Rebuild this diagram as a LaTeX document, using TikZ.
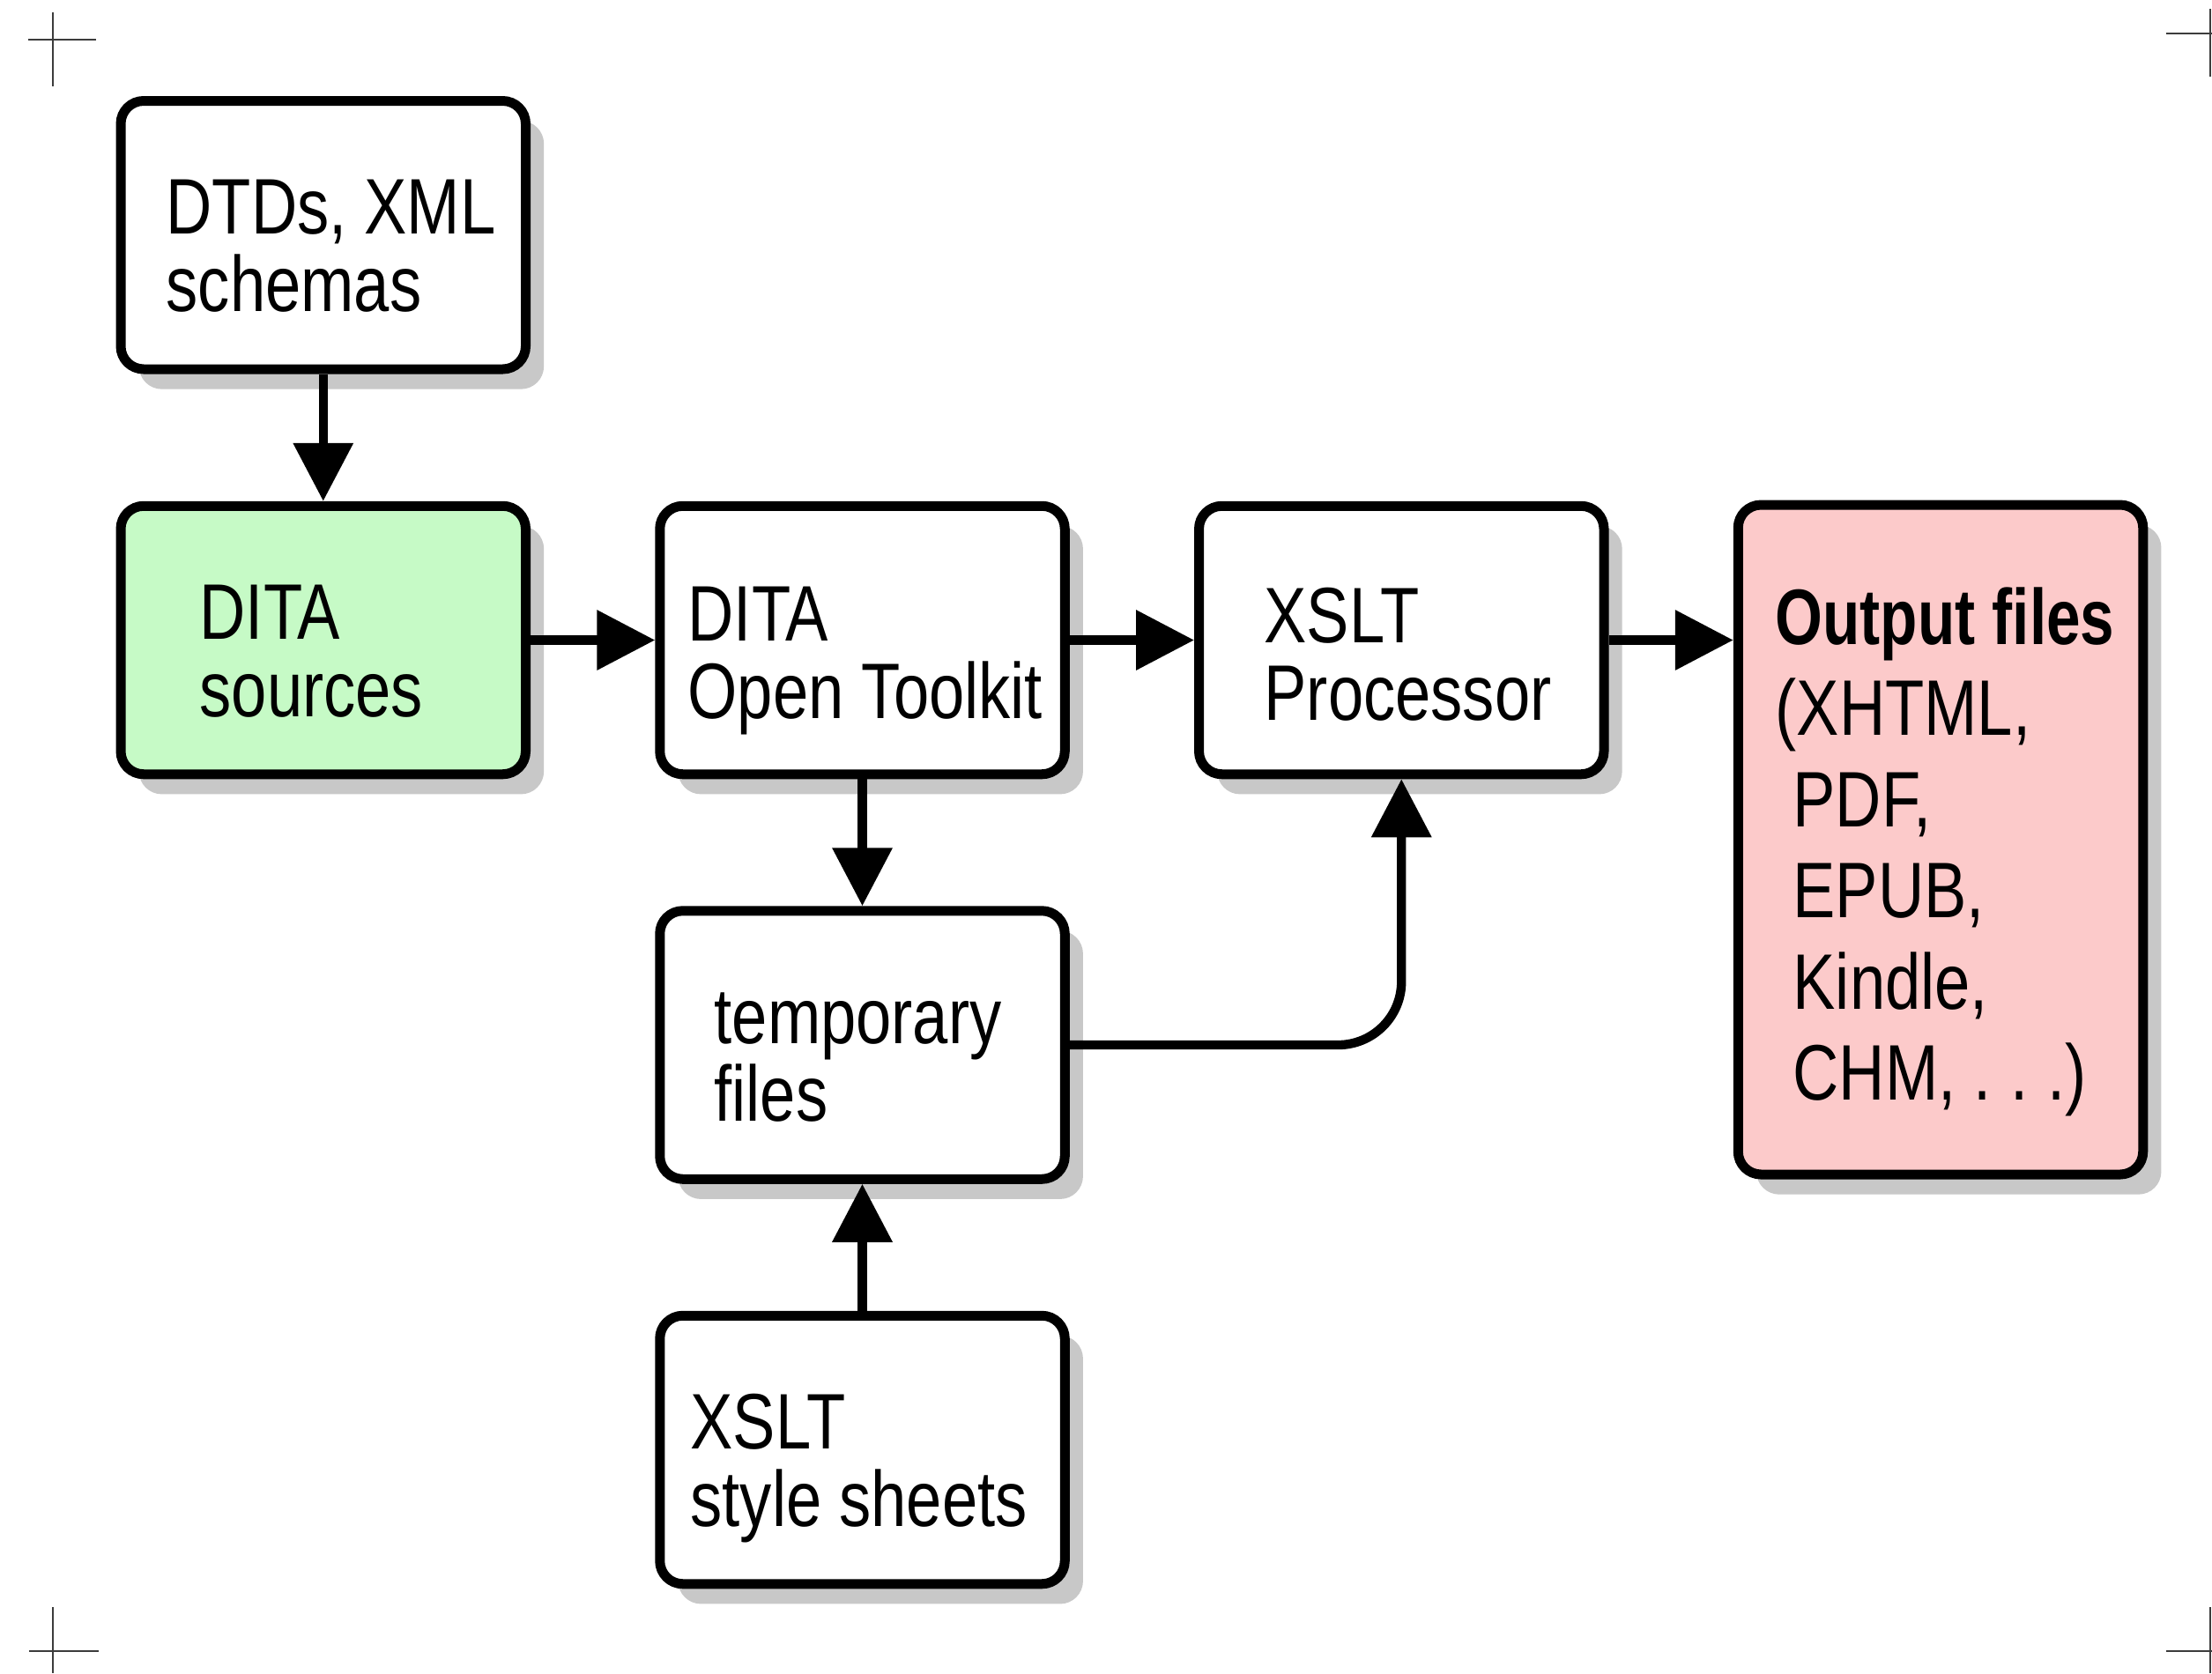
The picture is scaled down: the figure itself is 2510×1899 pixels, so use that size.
\documentclass[tikz,border=0pt]{standalone}
\usepackage{fontspec}
\setmainfont{Liberation Sans}[FakeStretch=0.81, BoldFeatures={FakeStretch=0.775}]
\usetikzlibrary{arrows.meta,shadows}
\definecolor{shadowgray}{RGB}{200,200,200}
\definecolor{srcgreen}{RGB}{198,250,198}
\definecolor{outpink}{RGB}{252,202,202}
\definecolor{cropgray}{RGB}{60,60,60}
\tikzset{
  box/.style={draw, line width=3.3pt, rounded corners=7.8pt,
    minimum width=137.85pt, minimum height=91.35pt, inner sep=0pt, fill=white,
    drop shadow={shadow xshift=6.2pt, shadow yshift=-6.8pt, fill=shadowgray, opacity=1}},
  txt/.style={anchor=base west, align=left, inner sep=0pt,
    font=\fontsize{26.8pt}{26.4pt}\selectfont},
  arr/.style={line width=3.1pt, -{Triangle[length=19.8pt,width=19.8pt]}},
  crop/.style={line width=0.75pt, draw=cropgray}
}
\begin{document}
\begin{tikzpicture}[x=0.3pt, y=-0.3pt]
\useasboundingbox (0,0) rectangle (2510,1899);
% crop marks
\draw[crop] (32,45) -- (109,45) (60,14) -- (60,98);
\draw[crop] (2458,38) -- (2510,38) (2508,10) -- (2508,87);
\draw[crop] (33,1874) -- (112,1874) (60,1824) -- (60,1899);
\draw[crop] (2458,1874) -- (2510,1874) (2508,1824) -- (2508,1899);
% boxes
\node[box] (b1) at (366.75,266.75) {};
\node[box, fill=srcgreen] (b2) at (366.75,726.5) {};
\node[box] (b3) at (978.5,726.5) {};
\node[box] (b4) at (1590.25,726.5) {};
\node[box, fill=outpink, minimum height=228pt] (b5) at (2202,953) {};
\node[box] (b6) at (978.5,1186) {};
\node[box] (b7) at (978.5,1645.5) {};
% texts (anchored at the baseline of the last line)
\node[txt] (t1) at (188,353) {DTDs, XML\\schemas};
\node[txt] (t2) at (226,813) {DITA\\sources};
\node[txt] (t3) at (780,815) {DITA\\Open Toolkit};
\node[txt] (t4) at (1434,817) {XSLT\\Processor};
\node[txt, font=\fontsize{26.8pt}{31.05pt}\selectfont] (t5) at (2014,1248.5)
  {\textbf{Output files}\\(XHTML,\\\hspace*{6pt}PDF,\\\hspace*{6pt}EPUB,\\\hspace*{6pt}Kindle,\\\hspace*{6pt}CHM, .\hspace{6.5pt}.\hspace{6.5pt}.)};
\node[txt] (t6) at (810,1272) {temporary\\files};
\node[txt] (t7) at (783,1732) {XSLT\\style sheets};
% connectors
\draw[arr] (b1.south) -- (b2.north);
\draw[arr] (b2.east) -- (b3.west);
\draw[arr] (b3.east) -- (b4.west);
\draw[arr] (b4.east) -- (b4.east -| b5.west);
\draw[arr] (b3.south) -- (b6.north);
\draw[arr] (b7.north) -- (b6.south);
\draw[arr, rounded corners=21.6pt] (b6.east) -| (b4.south);
\end{tikzpicture}
\end{document}
